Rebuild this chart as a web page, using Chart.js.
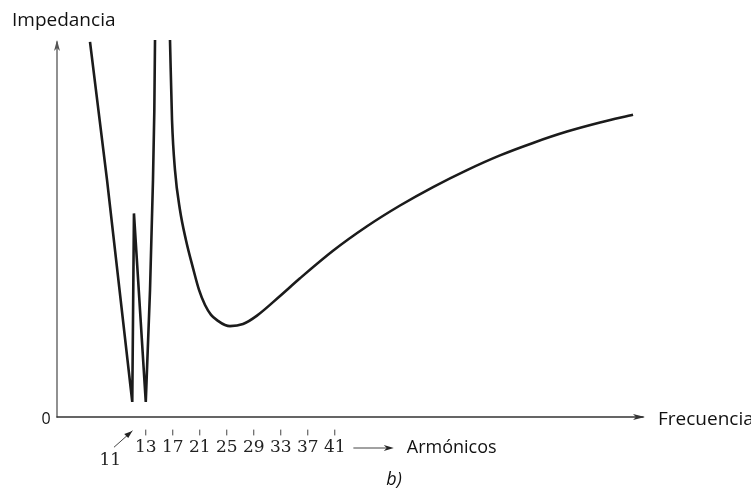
<!DOCTYPE html>
<html>
<head>
<meta charset="utf-8">
<title>Impedancia vs frecuencia</title>
<script src="https://cdn.jsdelivr.net/npm/chart.js@4/dist/chart.umd.min.js"></script>
<style>
    html, body { margin: 0; padding: 0; background: #fff; }
    #wrap { width: 751px; height: 499px; position: relative; }
</style>
</head>
<body>
<div id="wrap"><canvas id="impedance-chart" width="751" height="499"></canvas></div>
<script>
// Harmonic order (x) and relative impedance (y, 0-100 = axis height)
// Low branch: resonances around the 11th and 13th harmonic (straight strokes)
const lowBranchX = [4.74, 7.26, 11, 11.25, 13, 13.63, 14.07, 14.27, 14.37];
const lowBranchY = [99.5, 62.9, 4, 54, 4, 33.7, 62.9, 81.4, 100];

// High branch: comes down from infinity, minimum near 25, then rises
const highBranchX = [16.59, 16.89, 17.33, 18.07, 18.96, 20.0, 20.89, 21.78, 22.67, 23.7, 24.74, 25.48,
                     27.41, 29.48, 32.89, 35.85, 40.74, 45.78, 50.67, 55.56, 60.59, 65.48,
                     70.37, 75.41, 80.3, 85.19];
const highBranchY = [100, 78.8, 65.5, 54.9, 46.9, 39.5, 33.7, 29.7, 27.1, 25.5, 24.4, 24.1,
                     24.65, 26.9, 32.1, 36.8, 44.1, 50.6, 56.1, 61.0, 65.5, 69.4,
                     72.7, 75.7, 78.1, 80.2];

// Tick labels under the frequency axis
const harmonicTicks = [13, 17, 21, 25, 29, 33, 37, 41];
const markedHarmonic = 11;

const toPoints = (xs, ys) => xs.map((v, i) => ({ x: v, y: ys[i] }));

// Draws the arrowed axes, harmonic ticks and the text labels
const axesPlugin = {
    id: 'axesPlugin',
    afterDraw(chart) {
        const { ctx, scales: { x, y } } = chart;
        const left = x.getPixelForValue(x.min);
        const right = x.getPixelForValue(x.max);
        const base = y.getPixelForValue(0);
        const top = y.getPixelForValue(y.max);

        ctx.save();
        ctx.lineCap = 'round';

        // y axis with arrow
        ctx.strokeStyle = '#555';
        ctx.fillStyle = '#555';
        ctx.lineWidth = 1.3;
        ctx.beginPath();
        ctx.moveTo(left, base);
        ctx.lineTo(left, top + 2);
        ctx.stroke();
        ctx.beginPath();
        ctx.moveTo(left, top);
        ctx.lineTo(left - 3, top + 11);
        ctx.lineTo(left, top + 8);
        ctx.lineTo(left + 3, top + 11);
        ctx.closePath();
        ctx.fill();

        // x axis with arrow
        ctx.strokeStyle = '#333';
        ctx.fillStyle = '#333';
        ctx.lineWidth = 1.5;
        ctx.beginPath();
        ctx.moveTo(left, base);
        ctx.lineTo(right - 2, base);
        ctx.stroke();
        ctx.beginPath();
        ctx.moveTo(right, base);
        ctx.lineTo(right - 12, base - 3);
        ctx.lineTo(right - 9, base);
        ctx.lineTo(right - 12, base + 3);
        ctx.closePath();
        ctx.fill();

        // harmonic ticks and labels
        ctx.strokeStyle = '#444';
        ctx.fillStyle = '#222';
        ctx.lineWidth = 1;
        ctx.font = '17px "DejaVu Serif"';
        ctx.textAlign = 'center';
        ctx.textBaseline = 'top';
        harmonicTicks.forEach(h => {
            const px = x.getPixelForValue(h);
            ctx.beginPath();
            ctx.moveTo(px, base + 13);
            ctx.lineTo(px, base + 18);
            ctx.stroke();
            ctx.fillText(String(h), px, base + 22);
        });

        // the 11th harmonic label sits below with a pointer
        const p11 = x.getPixelForValue(markedHarmonic);
        ctx.fillText(String(markedHarmonic), p11 - 22, base + 35);
        ctx.beginPath();
        ctx.moveTo(p11 - 18, base + 30);
        ctx.lineTo(p11, base + 14);
        ctx.stroke();
        ctx.beginPath();
        ctx.moveTo(p11, base + 14);
        ctx.lineTo(p11 - 8, base + 17);
        ctx.lineTo(p11 - 4, base + 21);
        ctx.closePath();
        ctx.fill();

        // "-> Armónicos"
        const pLast = x.getPixelForValue(harmonicTicks[harmonicTicks.length - 1]);
        const ay = base + 31;
        ctx.beginPath();
        ctx.moveTo(pLast + 19, ay);
        ctx.lineTo(pLast + 55, ay);
        ctx.stroke();
        ctx.beginPath();
        ctx.moveTo(pLast + 59, ay);
        ctx.lineTo(pLast + 49, ay - 3);
        ctx.lineTo(pLast + 52, ay);
        ctx.lineTo(pLast + 49, ay + 3);
        ctx.closePath();
        ctx.fill();

        ctx.font = '18px "Open Sans"';
        ctx.textAlign = 'left';
        ctx.textBaseline = 'middle';
        ctx.fillStyle = '#111';
        ctx.fillText('Armónicos', pLast + 72, ay);

        // axis titles
        ctx.font = '19px "Open Sans"';
        ctx.textBaseline = 'alphabetic';
        ctx.fillText('Impedancia', 12, 26);
        ctx.textBaseline = 'middle';
        ctx.fillText('Frecuencia', right + 13, base + 3);

        ctx.font = '16px "Open Sans"';
        ctx.textAlign = 'center';
        ctx.fillText('0', left - 11, base + 2);

        ctx.font = 'italic 18px "Open Sans"';
        ctx.fillText('b)', 394, 480);

        ctx.restore();
    }
};

const ctx = document.getElementById('impedance-chart').getContext('2d');
const impedanceChart = new Chart(ctx, {
    type: 'scatter',
    data: {
        datasets: [{
            label: 'Rama baja',
            data: toPoints(lowBranchX, lowBranchY),
            showLine: true,
            borderColor: '#1b1b1b',
            borderWidth: 2.6,
            pointRadius: 0,
            tension: 0
        }, {
            label: 'Rama alta',
            data: toPoints(highBranchX, highBranchY),
            showLine: true,
            borderColor: '#1b1b1b',
            borderWidth: 2.6,
            pointRadius: 0,
            cubicInterpolationMode: 'monotone'
        }]
    },
    options: {
        responsive: false,
        animation: false,
        layout: {
            padding: { left: 57, right: 106, top: 40, bottom: 82 }
        },
        scales: {
            x: { type: 'linear', min: -0.15, max: 86.96, display: false },
            y: { type: 'linear', min: 0, max: 100, display: false }
        },
        plugins: {
            legend: { display: false },
            tooltip: { enabled: false }
        }
    },
    plugins: [axesPlugin]
});
</script>
</body>
</html>
